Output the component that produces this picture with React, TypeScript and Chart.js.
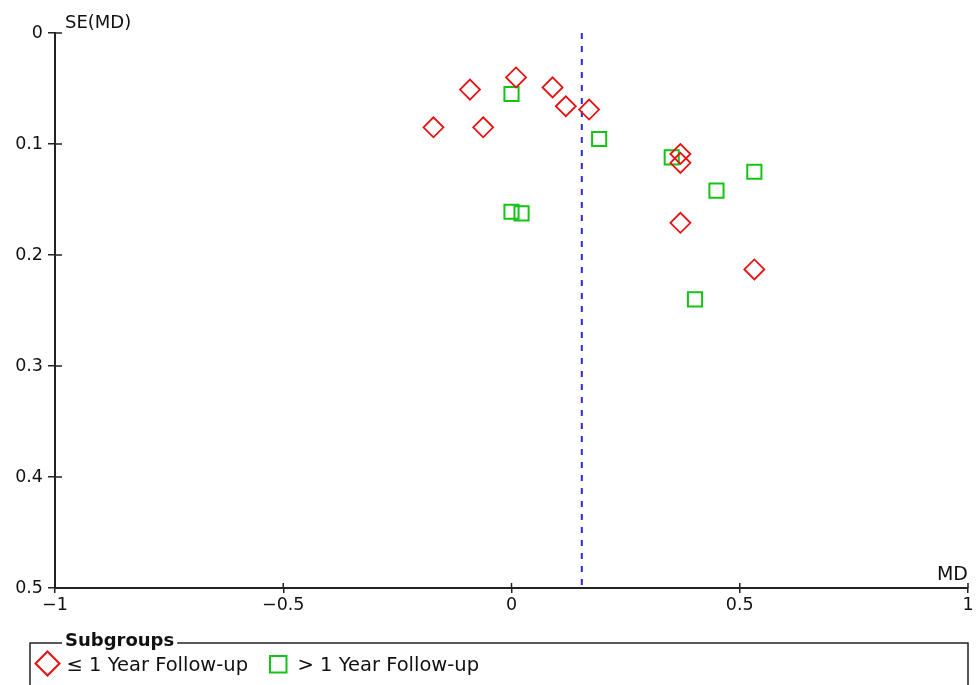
import React, { useEffect, useRef } from "react";
import { Chart, registerables } from "chart.js";

Chart.register(...registerables);

// ≤ 1 Year Follow-up subgroup
const lessMD = [-0.091, 0.010, -0.171, -0.062, 0.090, 0.119, 0.170, 0.370, 0.370, 0.370, 0.532];
const lessSE = [0.051, 0.040, 0.085, 0.085, 0.049, 0.066, 0.069, 0.109, 0.117, 0.171, 0.213];
// > 1 Year Follow-up subgroup
const moreMD = [0.000, 0.192, 0.000, 0.022, 0.351, 0.532, 0.449, 0.402];
const moreSE = [0.055, 0.0955, 0.161, 0.1625, 0.112, 0.125, 0.142, 0.240];
// pooled estimate
const pooledMD = 0.154;
const seRange = [0, 0.5];

const xTicks = [-1, -0.5, 0, 0.5, 1];
const yTicks = [0, 0.1, 0.2, 0.3, 0.4, 0.5];

const seriesLabels = ["≤ 1 Year Follow-up", "> 1 Year Follow-up"];
const legendTitle = "Subgroups";
const xTitle = "MD";
const yTitle = "SE(MD)";

const RED = "#e81010";
const GREEN = "#14c414";
const BLUE = "#2a2ae0";
const AXIS = "#222222";
const FONT = "'DejaVu Sans', sans-serif";

const fmt = (v: number) => {
  const r = Math.round(v * 10) / 10;
  const s = String(Math.abs(r));
  return r < 0 ? "\u2212" + s : s;
};

const innerTicks = {
  id: "innerTicks",
  afterDraw(chart: any) {
    const { ctx, chartArea } = chart;
    const xs = chart.scales.x;
    const ys = chart.scales.y;
    ctx.save();
    ctx.strokeStyle = AXIS;
    ctx.lineWidth = 1.5;
    ctx.beginPath();
    xTicks.forEach((t) => {
      const px = xs.getPixelForValue(t);
      ctx.moveTo(px, chartArea.bottom);
      ctx.lineTo(px, chartArea.bottom - 5);
    });
    yTicks.forEach((t) => {
      const py = ys.getPixelForValue(t);
      ctx.moveTo(chartArea.left, py);
      ctx.lineTo(chartArea.left + 7, py);
    });
    ctx.stroke();

    // axis titles
    ctx.fillStyle = "#111";
    ctx.font = `18px ${FONT}`;
    ctx.textBaseline = "alphabetic";
    ctx.textAlign = "left";
    ctx.fillText(yTitle, chartArea.left + 10, 28);
    ctx.textAlign = "right";
    ctx.font = `19px ${FONT}`;
    ctx.fillText(xTitle, chartArea.right, chartArea.bottom - 8);

    // legend box
    const top = 643, left = 30, right = chartArea.right, bottom = 700;
    ctx.font = `bold 18px ${FONT}`;
    ctx.textAlign = "left";
    const tw = ctx.measureText(legendTitle).width;
    ctx.lineWidth = 1.5;
    ctx.beginPath();
    ctx.moveTo(62, top);
    ctx.lineTo(left, top);
    ctx.lineTo(left, bottom);
    ctx.moveTo(65 + tw + 3, top);
    ctx.lineTo(right, top);
    ctx.lineTo(right, bottom);
    ctx.stroke();
    ctx.fillText(legendTitle, 65, 646);

    // legend items
    ctx.lineWidth = 2;
    ctx.strokeStyle = RED;
    ctx.beginPath();
    const dx = 47.5, dy = 663.5, r = 12;
    ctx.moveTo(dx, dy - r);
    ctx.lineTo(dx + r, dy);
    ctx.lineTo(dx, dy + r);
    ctx.lineTo(dx - r, dy);
    ctx.closePath();
    ctx.stroke();
    ctx.strokeStyle = GREEN;
    ctx.strokeRect(270, 656, 16.5, 16.5);
    ctx.font = `19.5px ${FONT}`;
    ctx.fillStyle = "#111";
    ctx.fillText(seriesLabels[0], 66.5, 671);
    ctx.fillText(seriesLabels[1], 297.5, 671);
    ctx.restore();
  },
};

export default function App() {
  const ref = useRef<HTMLCanvasElement>(null);
  useEffect(() => {
    if (!ref.current) return;
    const chart = new Chart(ref.current, {
      type: "scatter",
      data: {
        datasets: [
          {
            label: seriesLabels[0],
            data: lessMD.map((x, i) => ({ x, y: lessSE[i] })),
            pointStyle: "rectRot",
            pointRadius: 10,
            pointBorderWidth: 1.8,
            borderColor: RED,
            backgroundColor: "rgba(0,0,0,0)",
          },
          {
            label: seriesLabels[1],
            data: moreMD.map((x, i) => ({ x, y: moreSE[i] })),
            pointStyle: "rect",
            pointRadius: 10,
            pointBorderWidth: 2,
            borderColor: GREEN,
            backgroundColor: "rgba(0,0,0,0)",
          },
          {
            type: "line",
            label: "pooled",
            data: seRange.map((y) => ({ x: pooledMD, y })),
            showLine: true,
            pointRadius: 0,
            borderColor: BLUE,
            borderWidth: 2,
            borderDash: [6, 7],
          } as any,
        ],
      },
      options: {
        animation: false,
        responsive: false,
        events: [],
        layout: { autoPadding: false, padding: { left: 0, top: 33, right: 9, bottom: 0 } },
        plugins: { legend: { display: false }, tooltip: { enabled: false } },
        scales: {
          x: {
            type: "linear",
            min: -1,
            max: 1,
            afterFit: (s: any) => { s.height = 97; s.paddingLeft = 0; s.paddingRight = 0; },
            afterBuildTicks: (s: any) => { s.ticks = xTicks.map((v) => ({ value: v })); },
            ticks: { callback: (v: any) => fmt(Number(v)), font: { family: FONT, size: 17.5 }, color: "#111", padding: 2, maxRotation: 0 },
            grid: { drawOnChartArea: false, drawTicks: true, tickLength: 5, color: AXIS, lineWidth: 1.5 },
            border: { display: true, color: AXIS, width: 2 },
          },
          y: {
            type: "linear",
            min: 0,
            max: 0.5,
            reverse: true,
            afterFit: (s: any) => { s.width = 55; s.paddingTop = 0; s.paddingBottom = 0; },
            afterBuildTicks: (s: any) => { s.ticks = yTicks.map((v) => ({ value: v })); },
            ticks: { callback: (v: any) => fmt(Number(v)), font: { family: FONT, size: 17.5 }, color: "#111", padding: 5 },
            grid: { drawOnChartArea: false, drawTicks: true, tickLength: 7, color: AXIS, lineWidth: 1.5 },
            border: { display: true, color: AXIS, width: 2 },
          },
        },
      },
      plugins: [innerTicks],
    });
    return () => chart.destroy();
  }, []);
  return (
    <div style={{ position: "fixed", left: 0, top: 0, width: 977, height: 685, background: "#fff" }}>
      <canvas ref={ref} width={977} height={685} />
    </div>
  );
}
